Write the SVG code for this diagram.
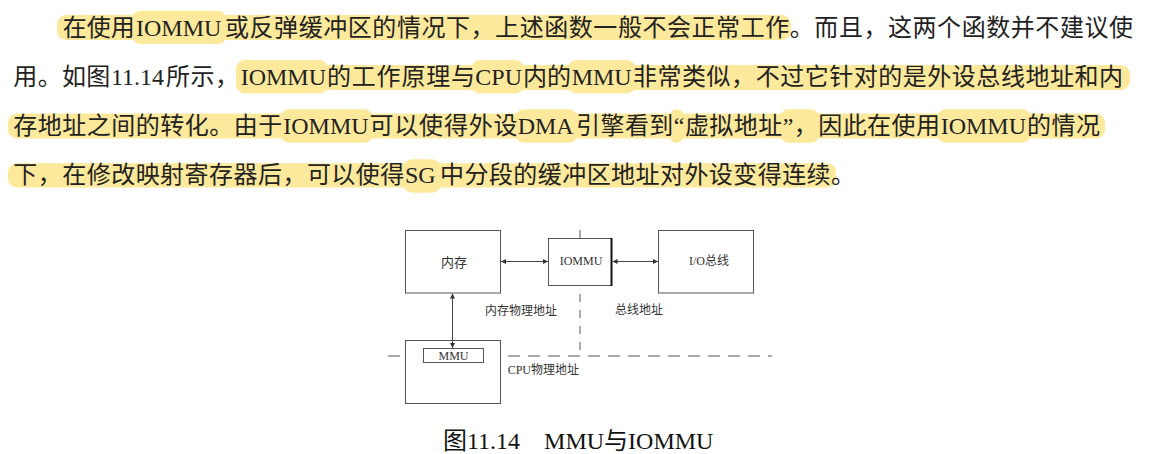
<svg xmlns="http://www.w3.org/2000/svg" width="1153" height="454" viewBox="0 0 1153 454">
<style>
.p{font-family:"Liberation Serif","Noto Sans CJK SC",serif;font-size:24px;fill:#222}
.hl{fill:#fde99b}
.box{fill:#fff;stroke:#555;stroke-width:1}
.dash{fill:none;stroke:#555;stroke-width:1}
.lbl{font-family:"Liberation Serif","Noto Sans CJK SC",serif;font-size:12px;fill:#333}
.con{fill:none;stroke:#444;stroke-width:1;marker-start:url(#ah);marker-end:url(#ah)}
.cap{font-family:"Liberation Serif","Noto Sans CJK SC",serif;font-size:24px;fill:#111}
</style>
<defs>
<marker id="ah" viewBox="0 0 10 10" refX="10" refY="5" markerWidth="5" markerHeight="5" markerUnits="userSpaceOnUse" orient="auto-start-reverse">
<path d="M0,0 L10,5 L0,10 z" fill="#333"/>
</marker>
</defs>
<rect width="1153" height="454" fill="#fff"/>

<g id="highlights">
<rect class="hl" x="57" y="15" width="734" height="25" rx="9"/>
<rect class="hl" x="131.7" y="10.7" width="95" height="33.3" rx="9"/>
<rect class="hl" x="236" y="65" width="894" height="25" rx="9"/>
<rect class="hl" x="236" y="60" width="92.3" height="33.5" rx="9"/>
<rect class="hl" x="471" y="60" width="53.3" height="33.5" rx="9"/>
<rect class="hl" x="567.7" y="60" width="68" height="33.5" rx="9"/>
<rect class="hl" x="8" y="113.5" width="1097" height="25" rx="9"/>
<rect class="hl" x="280" y="109.3" width="93.3" height="33.4" rx="9"/>
<rect class="hl" x="515" y="109.3" width="62.7" height="33.4" rx="9"/>
<rect class="hl" x="670" y="109.3" width="13.3" height="33.4" rx="6"/>
<rect class="hl" x="779.7" y="109.3" width="40" height="33.4" rx="9"/>
<rect class="hl" x="937" y="109.3" width="94.3" height="33.4" rx="9"/>
<rect class="hl" x="8" y="163.3" width="828" height="24.2" rx="9"/>
<rect class="hl" x="403.3" y="159.3" width="37.7" height="33.4" rx="9"/>
</g>

<g id="paragraph" class="p">
<text x="62.7" y="36">在使用</text>
<text x="136" y="36">IOMMU</text>
<text x="225" y="36" textLength="908" lengthAdjust="spacing">或反弹缓冲区的情况下，上述函数一般不会正常工作。而且，这两个函数并不建议使</text>

<text x="13.3" y="85" textLength="97" lengthAdjust="spacing">用。如图</text>
<text x="111" y="85">11.14</text>
<text x="166" y="85" textLength="73" lengthAdjust="spacing">所示，</text>
<text x="240.7" y="85">IOMMU</text>
<text x="327" y="85" textLength="148" lengthAdjust="spacing">的工作原理与</text>
<text x="475.3" y="85">CPU</text>
<text x="523" y="85" textLength="48" lengthAdjust="spacing">内的</text>
<text x="571.7" y="85">MMU</text>
<text x="633" y="85" textLength="490" lengthAdjust="spacing">非常类似，不过它针对的是外设总线地址和内</text>

<text x="13.3" y="134" textLength="269" lengthAdjust="spacing">存地址之间的转化。由于</text>
<text x="283.3" y="134">IOMMU</text>
<text x="369.5" y="134" textLength="148" lengthAdjust="spacing">可以使得外设</text>
<text x="517.7" y="134">DMA</text>
<text x="576" y="134" textLength="364" lengthAdjust="spacing">引擎看到“虚拟地址”，因此在使用</text>
<text x="940.7" y="134">IOMMU</text>
<text x="1027" y="134" textLength="73" lengthAdjust="spacing">的情况</text>

<text x="13.3" y="183" textLength="391" lengthAdjust="spacing">下，在修改映射寄存器后，可以使得</text>
<text x="405" y="183">SG</text>
<text x="440" y="183" textLength="415" lengthAdjust="spacing">中分段的缓冲区地址对外设变得连续。</text>
</g>

<g id="boundaries">
<line class="dash" x1="580" y1="230" x2="580" y2="356" stroke-dasharray="8,8"/>
<line class="dash" x1="388" y1="356" x2="772" y2="356" stroke-dasharray="12,8"/>
</g>

<g id="node-memory">
<rect class="box" x="405.5" y="230.5" width="95" height="62.5"/>
<text class="lbl" x="454" y="266.5" text-anchor="middle" style="font-size:13px">内存</text>
</g>

<g id="node-iommu">
<rect class="box" x="548.5" y="238.5" width="63" height="47"/>
<line x1="611.5" y1="238" x2="611.5" y2="286" stroke="#111" stroke-width="2"/>
<text class="lbl" x="581" y="264.5" text-anchor="middle">IOMMU</text>
</g>

<g id="node-iobus">
<rect class="box" x="658.5" y="230.5" width="95" height="62.5"/>
<text class="lbl" x="709" y="264.5" text-anchor="middle">I/O总线</text>
</g>

<g id="node-cpu">
<rect class="box" x="405.5" y="340.5" width="95" height="63"/>
</g>

<g id="node-mmu">
<rect class="box" x="423.5" y="348.5" width="60" height="14"/>
<text class="lbl" x="453.5" y="360" text-anchor="middle">MMU</text>
</g>

<g id="connectors">
<line class="con" x1="501" y1="261.5" x2="548" y2="261.5"/>
<line class="con" x1="612.5" y1="261.5" x2="658" y2="261.5"/>
<line class="con" x1="452.5" y1="293.5" x2="452.5" y2="348"/>
</g>

<g id="labels">
<text class="lbl" x="485" y="315">内存物理地址</text>
<text class="lbl" x="615" y="314">总线地址</text>
<text class="lbl" x="507.7" y="373.5">CPU物理地址</text>
</g>

<g id="caption">
<text class="cap" x="443" y="449">图11.14　MMU与IOMMU</text>
</g>
</svg>
